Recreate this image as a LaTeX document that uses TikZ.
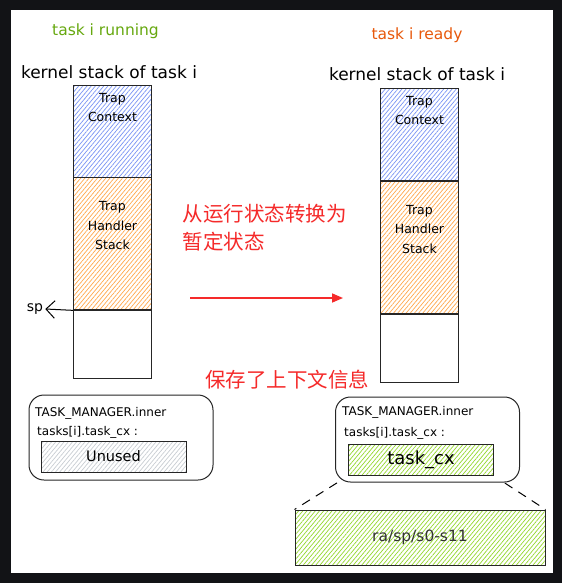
\documentclass[tikz,border=0pt]{standalone}
\usepackage{fontspec}
\setmainfont{DejaVu Sans}
\newfontfamily\cjk{Noto Sans CJK SC}
\usetikzlibrary{positioning,arrows.meta,patterns.meta}

\definecolor{framebg}{HTML}{121316}
\definecolor{runcol}{HTML}{66A80F}
\definecolor{readycol}{HTML}{E8590C}
\definecolor{ctxcol}{HTML}{7A94F5}
\definecolor{hdlcol}{HTML}{FFA94D}
\definecolor{cxcol}{HTML}{94D82D}
\definecolor{unusedcol}{HTML}{C8CDD2}
\definecolor{notecol}{HTML}{F52A2A}

\begin{document}
\begin{tikzpicture}[x=1pt,y=-1pt,font=\fontsize{15.5}{18}\selectfont,
  hatch/.style={pattern={Lines[angle=50,distance=3.2pt,line width=0.7pt]},pattern color=#1},
  stackbox/.style={draw=black!85,line width=1pt,minimum width=78pt,inner sep=0pt},
  boxtxt/.style={align=center,font=\fontsize{12.5}{19.5}\selectfont},
  membox/.style={draw=black!85,line width=1pt,rounded corners=15pt,minimum width=184pt,minimum height=85pt},
  cxbox/.style={draw=black!85,line width=1pt,minimum width=145pt,minimum height=31pt,inner sep=0pt},
  note/.style={text=notecol,font=\cjk\fontsize{20.5}{28}\selectfont},
  mgrtxt/.style={anchor=west,inner sep=0pt,font=\fontsize{12}{14}\selectfont}]
  \fill[framebg] (0,0) rectangle (562,583);
  \fill[white] (11,10) rectangle (553,573);

  \foreach \s/\x/\y/\kx/\ky/\t/\c/\tx/\ty in {L/112.5/86/109/72/task i running/runcol/105.5/31, R/419.5/89/417/74/task i ready/readycol/417/35}
  {
    \node[stackbox,hatch=ctxcol,minimum height=91pt] (ctx\s) at (\x,\y+45.5) {};
    \node[stackbox,hatch=hdlcol,minimum height=132pt,below=0pt of ctx\s] (hdl\s) {};
    \node[stackbox,minimum height=68pt,below=0pt of hdl\s] (free\s) {};
    \node[boxtxt,below=4pt of ctx\s.north] (ctxT\s) {Trap\\Context};
    \node[boxtxt,below=21pt of hdl\s.north] (hdlT\s) {Trap\\Handler\\Stack};
    \node[font=\fontsize{17}{20}\selectfont] (ks\s) at (\kx,\ky) {kernel stack of task i};
    \node[text=\c] (head\s) at (\tx,\ty) {\t};
  }

  \node[font=\fontsize{14}{16}\selectfont,inner sep=2pt] (spL) at (35,309) {sp};
  \draw[line width=1pt,-{Straight Barb[scale=2.5]}] (hdlL.south west) -- (spL.east);

  \node[note,align=left,anchor=north west] (moveTxt) at (179,201) {从运行状态转换为\\暂定状态};
  \coordinate (arrS) at (190,298);
  \coordinate (arrE) at (343,298);
  \draw[notecol,line width=1.6pt,-{Triangle[length=11pt,width=9pt]}] (arrS) -- (arrE);
  \node[note] (saveTxt) at (287,380) {保存了上下文信息};

  \node[membox] (mgrL) at (121,437.5) {};
  \node[membox] (mgrR) at (427.5,439.5) {};
  \node[mgrtxt] (mgrLa) at (35,413) {TASK\_MANAGER.inner};
  \node[mgrtxt] (mgrLb) at (37,432) {tasks[i].task\_cx :};
  \node[mgrtxt] (mgrRa) at (342,412) {TASK\_MANAGER.inner};
  \node[mgrtxt] (mgrRb) at (344,433) {tasks[i].task\_cx :};

  \node[cxbox,hatch=unusedcol,font=\fontsize{14.5}{16}\selectfont] (cxL) at (113.5,456.5) {Unused};
  \node[cxbox,hatch=cxcol,font=\fontsize{18}{20}\selectfont] (cxR) at (421,460) {task\_cx};
  \node[cxbox,hatch=cxcol,minimum width=250pt,minimum height=55pt,text=black!80] (regs) at (420,537.5) {ra/sp/s0-s11};

  \draw[line width=1pt,dash pattern=on 9pt off 7pt,shorten <=13pt] (cxR.south west) -- (regs.north west);
  \draw[line width=1pt,dash pattern=on 9pt off 7pt,shorten <=13pt] (cxR.south east) -- (regs.north east);
\end{tikzpicture}
\end{document}
